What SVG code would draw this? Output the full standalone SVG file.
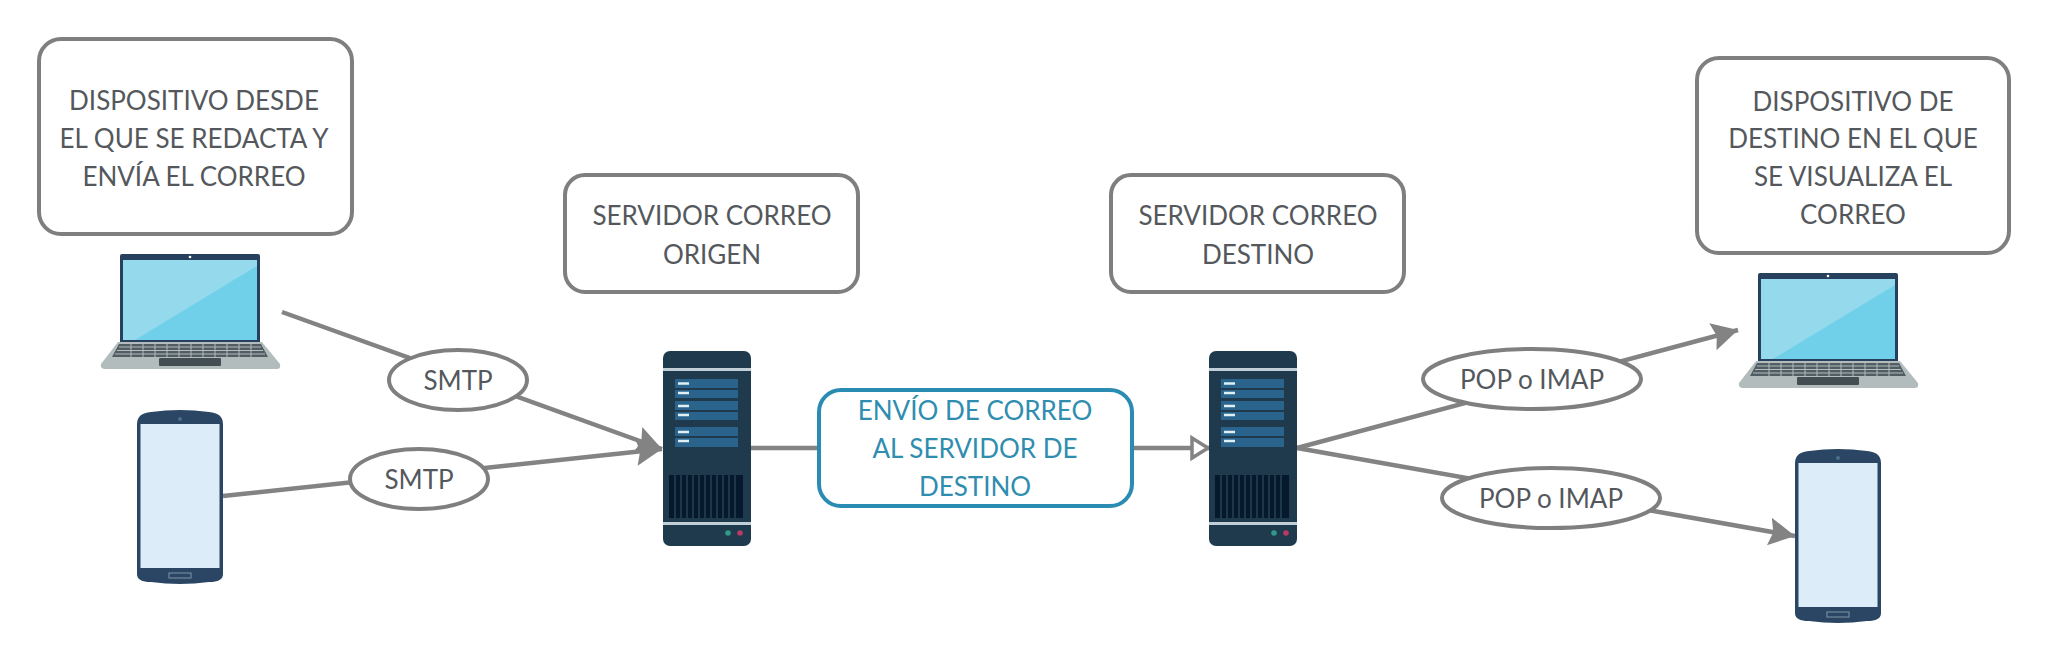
<svg xmlns="http://www.w3.org/2000/svg" width="2048" height="664" viewBox="0 0 2048 664">
<style>
.box{fill:#fff;stroke:#7f7f7f;stroke-width:4}
.blue{fill:#fff;stroke:#2b8cb3;stroke-width:4}
.ell{fill:#fff;stroke:#7f7f7f;stroke-width:4}
.t{font-family:Lato,"Liberation Sans",sans-serif;font-size:26px;fill:#54585c;text-anchor:middle}
.tb{fill:#2f8db0}
.c{fill:none;stroke:#838383;stroke-width:4.5}
</style>
<defs>
<marker id="ah" markerUnits="userSpaceOnUse" markerWidth="30" markerHeight="32" refX="26" refY="14" orient="auto" overflow="visible"><path d="M0 0L26 14L0 28L4 14Z" fill="#838383"/></marker>
<marker id="hollow" markerUnits="userSpaceOnUse" markerWidth="24" markerHeight="26" refX="18" refY="11" orient="auto" overflow="visible"><path d="M1 1L17 11L1 21Z" fill="#fff" stroke="#838383" stroke-width="3.5"/></marker>
<g id="laptop">
<path d="M21 2Q21 0 23 0H159Q161 0 161 2V88H21Z" fill="#27405e"/>
<rect x="24" y="6" width="134" height="80" fill="#70d0ea"/>
<path d="M24 6H158V12L36 86H24Z" fill="#94d9ec"/>
<circle cx="91" cy="3" r="1.3" fill="#fff"/>
<path d="M19 88H163L181 110Q182 115 178 115H6Q1 115 2 110Z" fill="#b3bcbd"/>
<path d="M20 90H162L169 103H13Z" fill="#515d63"/>
<path d="M20 93H162M18 96.500H164M16 100H166M32 90V103M44 90V103M56 90V103M68 90V103M80 90V103M92 90V103M104 90V103M116 90V103M128 90V103M140 90V103M152 90V103" stroke="#b3bcbd" stroke-width="1" fill="none"/>
<rect x="60" y="104" width="62" height="8" rx="1" fill="#434e52"/>
</g>
<g id="phone">
<path d="M0 14Q0 3 14 2Q43 -2 72 2Q86 3 86 14V164Q86 172 72 172Q43 176 14 172Q0 172 0 164Z" fill="#2b4664"/>
<rect x="3.500" y="14" width="79" height="144" fill="#dcedf9"/>
<circle cx="43" cy="9" r="2" fill="#4a6f8a"/>
<rect x="32" y="163" width="22" height="5" fill="none" stroke="#7f93a6" stroke-width="1"/>
</g>
<g id="server">
<rect x="0" y="0" width="88" height="195" rx="7" fill="#1e3a4c"/>
<rect x="0" y="17" width="88" height="3" fill="#c3cfd6"/>
<rect x="0" y="171" width="88" height="3" fill="#c3cfd6"/>
<rect x="12" y="28" width="63" height="9" fill="#2a638c"/>
<rect x="12" y="39" width="63" height="8" fill="#2a638c"/>
<rect x="12" y="50" width="63" height="9" fill="#2a638c"/>
<rect x="12" y="61" width="63" height="8" fill="#2a638c"/>
<rect x="12" y="76" width="63" height="9" fill="#2a638c"/>
<rect x="12" y="87" width="63" height="9" fill="#2a638c"/>
<path d="M15 32.500H26M15 42H26M15 55H26M15 64H26M15 81H26M15 90H26" stroke="#dff0f5" stroke-width="2.500"/>
<rect x="6" y="124" width="74" height="43" fill="#06182c"/>
<path d="M12 124V167M18 124V167M24 124V167M30 124V167M36 124V167M42 124V167M48 124V167M54 124V167M60 124V167M66 124V167M72 124V167" stroke="#254054" stroke-width="1.500"/>
<circle cx="65" cy="182" r="2.800" fill="#2f9a8a"/>
<circle cx="77" cy="182" r="2.800" fill="#b83a66"/>
</g>
</defs>
<rect width="2048" height="664" fill="#fff"/>
<g id="connectors">
<line class="c" x1="282" y1="312" x2="662" y2="449" marker-end="url(#ah)"/>
<line class="c" x1="223" y1="496" x2="662" y2="449" marker-end="url(#ah)"/>
<line class="c" x1="751" y1="448" x2="819" y2="448"/>
<line class="c" x1="1132" y1="448" x2="1209" y2="448" marker-end="url(#hollow)"/>
<line class="c" x1="1297" y1="448" x2="1738" y2="330" marker-end="url(#ah)"/>
<line class="c" x1="1297" y1="448" x2="1795" y2="536" marker-end="url(#ah)"/>
</g>
<g id="box-origen-dispositivo"><rect class="box" x="39" y="39" width="313" height="195" rx="22"/><text class="t"><tspan x="194" y="110">DISPOSITIVO DESDE</tspan><tspan x="194" y="148">EL QUE SE REDACTA Y</tspan><tspan x="194" y="186">ENVÍA EL CORREO</tspan></text></g>
<g id="box-servidor-origen"><rect class="box" x="565" y="175" width="293" height="117" rx="20"/><text class="t"><tspan x="712" y="225">SERVIDOR CORREO</tspan><tspan x="712" y="264">ORIGEN</tspan></text></g>
<g id="box-servidor-destino"><rect class="box" x="1111" y="175" width="293" height="117" rx="20"/><text class="t"><tspan x="1258" y="225">SERVIDOR CORREO</tspan><tspan x="1258" y="264">DESTINO</tspan></text></g>
<g id="box-destino-dispositivo"><rect class="box" x="1697" y="58" width="312" height="195" rx="22"/><text class="t"><tspan x="1853" y="111">DISPOSITIVO DE</tspan><tspan x="1853" y="148">DESTINO EN EL QUE</tspan><tspan x="1853" y="186">SE VISUALIZA EL</tspan><tspan x="1853" y="224">CORREO</tspan></text></g>
<g id="box-envio"><rect class="blue" x="819" y="390" width="313" height="116" rx="22"/><text class="t tb"><tspan x="975" y="420">ENVÍO DE CORREO</tspan><tspan x="975" y="458">AL SERVIDOR DE</tspan><tspan x="975" y="496">DESTINO</tspan></text></g>
<g id="laptop-origen"><use href="#laptop" x="99" y="254"/></g>
<g id="phone-origen"><use href="#phone" x="137" y="410"/></g>
<g id="server-origen"><use href="#server" x="663" y="351"/></g>
<g id="server-destino"><use href="#server" x="1209" y="351"/></g>
<g id="laptop-destino"><use href="#laptop" x="1737" y="273"/></g>
<g id="phone-destino"><use href="#phone" x="1795" y="449"/></g>
<g id="smtp-1"><ellipse class="ell" cx="458" cy="380" rx="69" ry="30"/><text class="t" x="458" y="390">SMTP</text></g>
<g id="smtp-2"><ellipse class="ell" cx="419" cy="479" rx="69" ry="30"/><text class="t" x="419" y="489">SMTP</text></g>
<g id="pop-1"><ellipse class="ell" cx="1532" cy="379" rx="109" ry="30"/><text class="t" x="1532" y="389">POP o IMAP</text></g>
<g id="pop-2"><ellipse class="ell" cx="1551" cy="498" rx="109" ry="30"/><text class="t" x="1551" y="508">POP o IMAP</text></g>
</svg>
